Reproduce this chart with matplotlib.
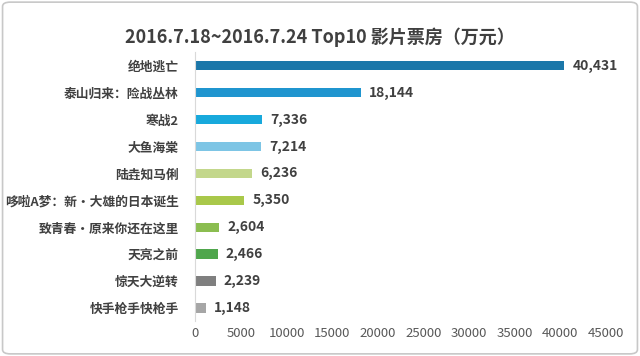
import matplotlib
matplotlib.use("Agg")
import matplotlib.pyplot as plt
from matplotlib.patches import FancyBboxPatch

plt.rcParams['font.family'] = ['Noto Sans CJK SC', 'DejaVu Sans']

films = ['绝地逃亡', '泰山归来：险战丛林', '寒战2', '大鱼海棠', '陆垚知马俐',
         '哆啦A梦：新•大雄的日本诞生', '致青春•原来你还在这里', '天亮之前',
         '惊天大逆转', '快手枪手快枪手']
box_office = [40431, 18144, 7336, 7214, 6236, 5350, 2604, 2466, 2239, 1148]
bar_colors = ['#1b77a9', '#1f95cf', '#18a9dc', '#7dc5e5', '#c3d78b',
              '#a9c84a', '#8bbd50', '#4fa64c', '#7f7f7f', '#a6a6a6']
xticks = [0, 5000, 10000, 15000, 20000, 25000, 30000, 35000, 40000, 45000]

fig = plt.figure(figsize=(6.4, 3.56), dpi=100)
ax = fig.add_axes([0.305, 0.097, 0.642, 0.756])

y = list(range(len(films)))
ax.barh(y, box_office, height=0.35, color=bar_colors)
for yi, v in zip(y, box_office):
    ax.text(v + 900, yi, f'{v:,}', va='center', ha='left', fontsize=10,
            fontweight='bold', color='#404040')

ax.set_ylim(len(films) - 0.5, -0.5)
ax.set_xlim(0, 45000)
ax.set_yticks(y)
ax.set_yticklabels(films, fontsize=9.2, fontweight='bold', color='#404040')
ax.set_xticks(xticks)
ax.set_xticklabels([str(t) for t in xticks], fontsize=9.5, color='#595959')
ax.tick_params(length=0, axis='both')
ax.tick_params(axis='y', pad=12)
ax.tick_params(axis='x', pad=4)
for s in ['top', 'right', 'bottom']:
    ax.spines[s].set_visible(False)
ax.spines['left'].set_color('#d9d9d9')

fig.text(0.5, 0.895, '2016.7.18~2016.7.24 Top10 影片票房（万元）', ha='center',
         va='center', fontsize=13, fontweight='bold', color='#404040')

border = FancyBboxPatch((0.004, 0.006), 0.992, 0.988, boxstyle='round,pad=0,rounding_size=0.012',
                        transform=fig.transFigure, fill=False, edgecolor='#c8c8c8', linewidth=1.2)
fig.patches.append(border)

fig.savefig('out.png', dpi=100)
